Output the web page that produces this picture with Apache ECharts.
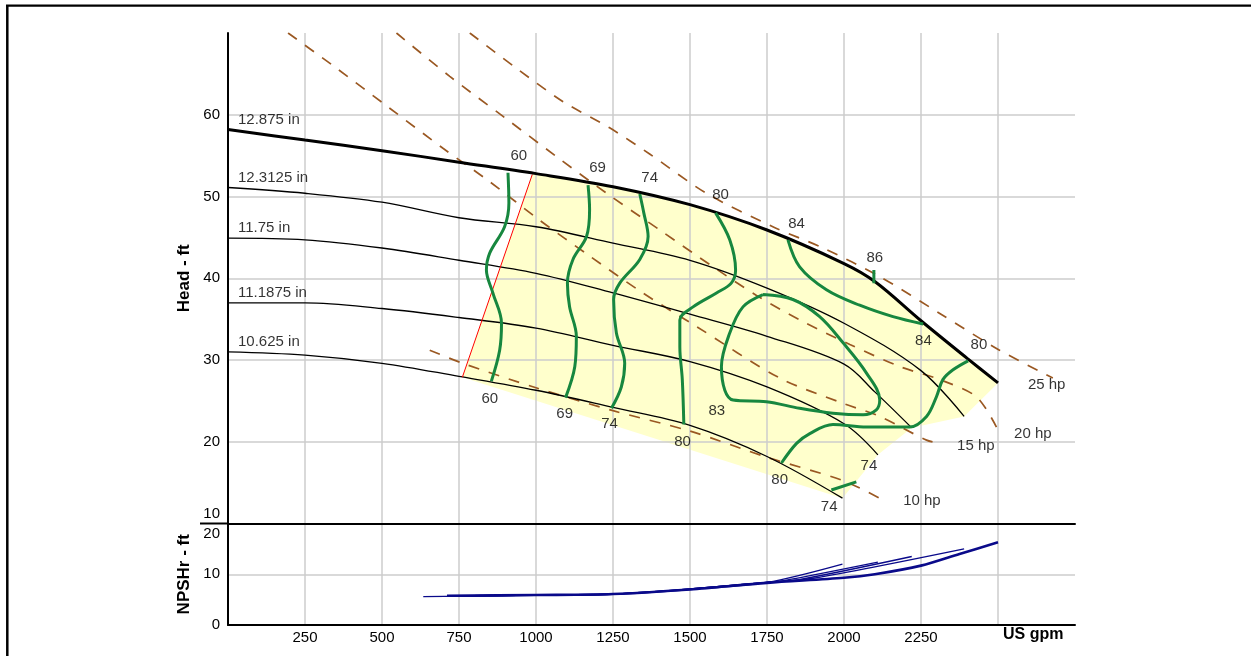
<!DOCTYPE html>
<html><head><meta charset="utf-8">
<script src="https://cdn.jsdelivr.net/npm/echarts@6/dist/echarts.min.js"></script>
<style>html,body{margin:0;padding:0;background:#fff}#c{width:1251px;height:656px}</style>
</head><body><div id="c"></div>
<script>
const FONT = '"Liberation Sans", Arial, sans-serif';

// Impeller head curves [gpm, ft]
const dia12875  = [[0,58.2],[250,56.9],[500,55.6],[750,54.2],[1000,52.8],[1250,51.2],[1500,49.0],[1750,45.9],[2000,41.8],[2100,39.6],[2250,34.8],[2400,30.2],[2500,27.2]];
const dia123125 = [[0,51.1],[250,50.4],[500,49.3],[750,47.4],[1000,46.3],[1250,44.3],[1500,42.2],[1750,38.8],[2000,34.5],[2250,28.7],[2390,23.1]];
const dia1175   = [[0,44.9],[250,44.7],[500,43.7],[750,42.2],[1000,40.6],[1250,38.2],[1500,35.6],[1750,32.9],[2000,29.5],[2100,26.1],[2220,21.7]];
const dia111875 = [[0,37.0],[250,37.0],[500,36.3],[750,35.2],[1000,33.9],[1250,31.8],[1500,29.8],[1750,26.7],[2000,22.2],[2110,18.4]];
const dia10625  = [[0,31.0],[250,30.6],[500,29.6],[750,28.0],[1000,26.3],[1250,24.2],[1500,22.0],[1750,18.2],[1995,13.1]];
const diaNames  = ['12.875 in','12.3125 in','11.75 in','11.1875 in','10.625 in'];

// Minimum flow line (red)
const minFlow = [[761,27.9],[988,52.7]];

// Efficiency contours [gpm, ft]
const eff60a = [[909,52.9],[912,49.2],[898,46.3],[850,43.1],[839,41.0],[860,38.2],[888,34.5],[882,31.2],[855,27.4]];
const eff69a = [[1169,51.4],[1174,48.4],[1164,45.1],[1120,42.3],[1102,39.4],[1109,36.5],[1131,32.9],[1126,29.2],[1096,25.4]];
const eff74a = [[1337,50.3],[1350,48.0],[1364,45.1],[1337,42.3],[1272,39.4],[1252,37.4],[1261,33.3],[1288,29.6],[1277,26.7],[1245,24.1]];
const eff80a = [[1583,48.0],[1629,44.7],[1648,41.0],[1634,39.4],[1586,38.2],[1510,36.5],[1467,34.9],[1467,31.6],[1475,27.6],[1480,22.1]];
const eff83  = [[1737,38.0],[1834,37.4],[1921,35.3],[1997,32.1],[2073,28.4],[2116,25.1],[2105,23.9],[2062,23.3],[1964,23.5],[1856,24.1],[1748,24.9],[1640,25.1],[1613,26.3],[1602,29.2],[1629,33.3],[1672,36.5],[1737,38.0]];
const eff84  = [[1818,44.7],[1856,41.4],[1943,38.6],[2051,36.7],[2159,35.3],[2257,34.4]];
const eff86  = [[2097,41.0],[2097,39.4]];
const eff80b = [[2403,29.9],[2354,28.8],[2321,27.6],[2300,25.5],[2268,23.1],[2213,21.8],[2073,21.8],[1964,22.1],[1889,21.0],[1846,19.8],[1797,17.4]];
const eff74b = [[1959,14.1],[2040,15.1]];
const effLabels = [[944,55.0,'60'],[1200,53.5,'69'],[1369,52.3,'74'],[1599,50.2,'80'],[1846,46.7,'84'],[2100,42.5,'86'],
  [2258,32.4,'84'],[2438,31.9,'80'],[850,25.3,'60'],[1093,23.4,'69'],[1239,22.2,'74'],[1476,20.0,'80'],
  [1587,23.8,'83'],[1791,15.3,'80'],[2081,17.1,'74'],[1952,12.0,'74']];

// Power lines [gpm, ft]
const hp10 = [[655,31.2],[762,29.6],[1000,26.6],[1250,23.8],[1500,21.3],[1750,18.1],[2000,15.2],[2140,12.6]];
const hp15 = [[195,70.0],[352,65.7],[525,60.8],[698,55.9],[850,51.8],[1012,47.1],[1175,42.7],[1347,38.2],[1521,34.1],[1791,27.8],[1997,24.7],[2116,23.1],[2268,20.2],[2311,19.8]];
const hp20 = [[547,70.0],[720,64.7],[893,59.8],[1066,54.9],[1229,50.4],[1402,45.9],[1575,41.4],[1716,37.9],[1856,34.9],[2019,31.9],[2181,29.2],[2311,27.6],[2430,25.5],[2495,21.8]];
const hp25 = [[785,70.0],[936,65.7],[1088,61.6],[1239,58.4],[1369,55.2],[1553,50.4],[1769,46.3],[1932,43.7],[2116,40.2],[2311,35.7],[2505,31.2],[2678,27.8]];
const hpLabels = [[2658,27.0,'25 hp'],[2613,21.0,'20 hp'],[2428,19.5,'15 hp'],[2253,12.8,'10 hp']];

// NPSHr curves [gpm, ft]
const npsh12875  = [[711,5.75],[1000,5.9],[1250,6.1],[1500,7.0],[1750,8.3],[2000,9.3],[2100,10.0],[2250,11.7],[2375,14.0],[2500,16.3]];
const npsh123125 = [[711,5.7],[1000,5.9],[1250,6.1],[1500,7.1],[1750,8.4],[1900,9.2],[2390,15.0]];
const npsh1175   = [[711,5.7],[1000,5.9],[1250,6.1],[1500,7.1],[1750,8.4],[1850,8.9],[2220,13.5]];
const npsh111875 = [[711,5.7],[1000,5.9],[1250,6.1],[1500,7.1],[1750,8.4],[1800,8.7],[2110,12.4]];
const npsh10625  = [[634,5.6],[1000,5.85],[1250,6.05],[1500,7.0],[1750,8.4],[1995,12.0]];

const diaCurves = [dia12875, dia123125, dia1175, dia111875, dia10625];
const npshCurves = [npsh12875, npsh123125, npsh1175, npsh111875, npsh10625];

const yellowPts = [minFlow[0], minFlow[1]]
  .concat(dia12875.filter(p => p[0] > minFlow[1][0]))
  .concat(diaCurves.slice(1).map(c => c[c.length - 1]));

const GREEN = '#17873f', BROWN = '#9a5822', NAVY = '#0a0a8a';

function line(data, color, width, opt) {
  return Object.assign({type:'line', data, symbol:'none', smooth:0.35, silent:true,
    xAxisIndex:0, yAxisIndex:0, lineStyle:{color, width}, z:3}, opt || {});
}
const series = [];
series.push({type:'custom', xAxisIndex:0, yAxisIndex:0, z:-1, silent:true, data:[[1000,30]],
  renderItem:(params, api) => ({type:'polygon', shape:{points: yellowPts.map(p => api.coord(p))}, style:{fill:'#ffffcc'}})});
[hp10, hp15, hp20, hp25].forEach(d => series.push(line(d, BROWN, 1.7, {smooth:0.3, z:2, lineStyle:{color:BROWN, width:1.7, type:[11,10]}})));
diaCurves.forEach((d, i) => series.push(line(d, '#000', i === 0 ? 3 : 1.3, {z: i === 0 ? 5 : 3})));
series.push(line(minFlow, '#ff0000', 1, {smooth:false, z:4}));
[eff60a, eff69a, eff74a, eff80a, eff83, eff84, eff86, eff80b, eff74b].forEach(d => series.push(line(d, GREEN, 3, {z:6})));
npshCurves.forEach((d, i) => series.push(line(d, NAVY, i === 0 ? 2.6 : 1.4, {xAxisIndex:1, yAxisIndex:1, smooth:0.3})));

const txt = {color:'#000', fontSize:15, fontFamily:FONT};
series.push({type:'scatter', xAxisIndex:0, yAxisIndex:0, symbolSize:0, silent:true, z:8,
  data: diaCurves.map((c, i) => ({value:c[0], label:{formatter:diaNames[i]}})),
  label:Object.assign({show:true, position:[10,-10], align:'left', verticalAlign:'middle'}, txt)});
series.push({type:'scatter', xAxisIndex:0, yAxisIndex:0, symbolSize:0, silent:true, z:8,
  data: effLabels.concat(hpLabels).map(p => ({value:[p[0], p[1]], label:{formatter:p[2]}})),
  label:Object.assign({show:true, position:[0,0], align:'center', verticalAlign:'middle'}, txt)});

const gridColor = '#cccccc';
const axisLbl = {color:'#000', fontSize:15, fontFamily:FONT};
const option = {
  animation:false,
  grid:[{left:228, right:176, top:33, height:490.5}, {left:228, right:176, top:523.5, height:101.5}],
  xAxis:[
    {type:'value', gridIndex:0, min:0, max:2750, interval:250,
     axisLine:{show:true, onZero:false, lineStyle:{color:'#000', width:2}}, axisTick:{show:false}, axisLabel:{show:false},
     splitLine:{show:true, showMinLine:false, showMaxLine:false, lineStyle:{color:gridColor, width:1.5}}},
    {type:'value', gridIndex:1, min:0, max:2750, interval:250,
     axisLine:{show:true, onZero:false, lineStyle:{color:'#000', width:2}}, axisTick:{show:false},
     axisLabel:Object.assign({margin:5, formatter:v => (v === 0 || v >= 2500) ? '' : String(v)}, axisLbl),
     splitLine:{show:true, showMinLine:false, showMaxLine:false, lineStyle:{color:gridColor, width:1.5}}}
  ],
  yAxis:[
    {type:'value', gridIndex:0, min:10, max:70, interval:10, name:'Head - ft', nameLocation:'middle', nameGap:28,
     nameTextStyle:{fontSize:17, fontWeight:'bold', fontFamily:FONT, color:'#000'},
     axisLine:{show:true, onZero:false, lineStyle:{color:'#000', width:2}}, axisTick:{show:false},
     axisLabel:Object.assign({margin:8, formatter:v => v === 70 ? '' : (v === 10 ? '{lo|10}' : String(v)),
       rich:{lo:{fontSize:15, fontFamily:FONT, color:'#000', padding:[0,0,20,0]}}}, axisLbl),
     splitLine:{show:true, showMinLine:false, showMaxLine:false, lineStyle:{color:gridColor, width:1.5}}},
    {type:'value', gridIndex:1, min:0, max:20, interval:10, name:'NPSHr - ft', nameLocation:'middle', nameGap:28,
     nameTextStyle:{fontSize:17, fontWeight:'bold', fontFamily:FONT, color:'#000'},
     axisLine:{show:true, onZero:false, lineStyle:{color:'#000', width:2}}, axisTick:{show:false},
     axisLabel:Object.assign({margin:8, formatter:v => v === 20 ? '{hi|20}' : String(v),
       rich:{hi:{fontSize:15, fontFamily:FONT, color:'#000', padding:[20,0,0,0]}}}, axisLbl),
     splitLine:{show:true, showMinLine:false, showMaxLine:false, lineStyle:{color:gridColor, width:1.5}}}
  ],
  graphic:[
    {type:'line', shape:{x1:6, y1:5.7, x2:1251, y2:5.7}, style:{stroke:'#000', lineWidth:2.2}, silent:true},
    {type:'line', shape:{x1:7.3, y1:5, x2:7.3, y2:656}, style:{stroke:'#000', lineWidth:2.5}, silent:true},
    {type:'line', shape:{x1:200, y1:523.5, x2:229, y2:523.5}, style:{stroke:'#000', lineWidth:2}, silent:true},
    {type:'text', left:1003, top:627, style:{text:'US gpm', fontSize:16, fontWeight:'bold', fontFamily:FONT, fill:'#000'}, silent:true}
  ],
  series
};
const chart = echarts.init(document.getElementById('c'));
chart.setOption(option);
</script></body></html>
